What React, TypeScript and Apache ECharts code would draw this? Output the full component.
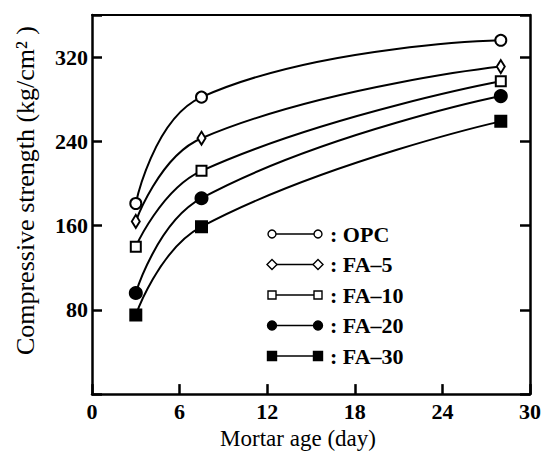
import React, { useEffect, useRef } from "react";
import * as echarts from "echarts";

// Mortar age in days at which strength was measured
const ages = [3, 7.5, 28];

// Compressive strength (kg/cm²) for each mix
const opc = [181, 282, 336];
const fa5 = [164, 243, 311];
const fa10 = [140, 212, 297];
const fa20 = [96, 186, 283];
const fa30 = [75, 159, 259];

const xTicks = [0, 6, 12, 18, 24, 30];
const yTicks = [80, 160, 240, 320];

const seriesNames = ["OPC", "FA–5", "FA–10", "FA–20", "FA–30"];

const FONT = "'Liberation Serif', 'DejaVu Serif', serif";

type MarkerSpec = { symbol: string; size: number | number[]; filled: boolean };

const markers: MarkerSpec[] = [
  { symbol: "circle", size: 11, filled: false },
  { symbol: "diamond", size: [8, 13], filled: false },
  { symbol: "rect", size: 10, filled: false },
  { symbol: "circle", size: 12, filled: true },
  { symbol: "rect", size: 11, filled: true },
];

const values = [opc, fa5, fa10, fa20, fa30];

function buildLegend() {
  const elements: any[] = [];
  const x1 = 272;
  const x2 = 318;
  const top = 234;
  const step = 30.5;
  seriesNames.forEach((name, i) => {
    const y = top + i * step;
    elements.push({
      type: "line",
      shape: { x1, y1: y, x2, y2: y },
      style: { stroke: "#000", lineWidth: 1.6 },
      z: 10,
    });
    const m = markers[i];
    [x1, x2].forEach((cx) => {
      const fill = m.filled ? "#000" : "#fff";
      const style = { fill, stroke: "#000", lineWidth: 1.4 };
      if (m.symbol === "circle") {
        elements.push({ type: "circle", shape: { cx, cy: y, r: m.filled ? 4.5 : 4 }, style, z: 11 });
      } else if (m.symbol === "rect") {
        const s = m.filled ? 9 : 8;
        elements.push({ type: "rect", shape: { x: cx - s / 2, y: y - s / 2, width: s, height: s }, style, z: 11 });
      } else {
        elements.push({
          type: "polygon",
          shape: { points: [[cx, y - 5], [cx + 5, y], [cx, y + 5], [cx - 5, y]] },
          style,
          z: 11,
        });
      }
    });
    elements.push({
      type: "text",
      x: 330,
      y,
      style: {
        text: ": " + name,
        font: `bold 22px ${FONT}`,
        fill: "#000",
        verticalAlign: "middle",
        align: "left",
      },
      z: 11,
    });
  });
  return elements;
}

export default function App() {
  const ref = useRef<HTMLDivElement>(null);

  useEffect(() => {
    if (!ref.current) return;
    const chart = echarts.init(ref.current, undefined, { renderer: "svg" });

    const axisLine = { show: true, onZero: false, lineStyle: { color: "#000", width: 2.5 } };
    const innerTick = { show: true, inside: true, length: 10, lineStyle: { color: "#000", width: 2.5 } };

    chart.setOption({
      animation: false,
      backgroundColor: "#fff",
      grid: { left: 92, right: 16, top: 15, bottom: 52 },
      xAxis: [
        {
          type: "value",
          min: xTicks[0],
          max: xTicks[xTicks.length - 1],
          interval: 6,
          position: "bottom",
          axisLine,
          axisTick: innerTick,
          axisLabel: {
            color: "#000",
            fontFamily: FONT,
            fontSize: 22,
            fontWeight: "bold",
            margin: 6,
          },
          splitLine: { show: false },
          name: "Mortar age (day)",
          nameLocation: "middle",
          nameGap: 25,
          nameTextStyle: { color: "#000", fontFamily: FONT, fontSize: 23, padding: [0, 26, 0, 0] },
        },
        {
          type: "value",
          min: xTicks[0],
          max: xTicks[xTicks.length - 1],
          position: "top",
          axisLine: { show: true, onZero: false, lineStyle: { color: "#000", width: 2 } },
          axisTick: { show: false },
          axisLabel: { show: false },
          splitLine: { show: false },
        },
      ],
      yAxis: [
        {
          type: "value",
          min: 0,
          max: 360,
          interval: 80,
          position: "left",
          axisLine,
          axisTick: innerTick,
          axisLabel: {
            color: "#000",
            fontFamily: FONT,
            fontSize: 22,
            fontWeight: "bold",
            margin: 4,
            formatter: (v: number) => (yTicks.includes(v) ? String(v) : ""),
          },
          splitLine: { show: false },
          name: "Compressive strength (kg/cm² )",
          nameLocation: "middle",
          nameGap: 54,
          nameTextStyle: { color: "#000", fontFamily: FONT, fontSize: 26, padding: [0, 0, 0, 28] },
        },
        {
          type: "value",
          min: 0,
          max: 360,
          interval: 80,
          position: "right",
          axisLine,
          axisTick: innerTick,
          axisLabel: { show: false },
          splitLine: { show: false },
        },
      ],
      series: values.map((vals, i) => {
        const m = markers[i];
        return {
          name: seriesNames[i],
          type: "line",
          xAxisIndex: 0,
          yAxisIndex: 0,
          smooth: 0.45,
          data: ages.map((a, j) => [a, vals[j]]),
          symbol: m.symbol,
          symbolSize: m.size,
          showSymbol: true,
          lineStyle: { color: "#000", width: 2 },
          itemStyle: {
            color: m.filled ? "#000" : "#fff",
            borderColor: "#000",
            borderWidth: 2,
          },
          z: 3,
        };
      }),
      graphic: buildLegend(),
    });

    return () => chart.dispose();
  }, []);

  return (
    <div
      ref={ref}
      style={{ position: "fixed", left: 0, top: 0, width: 546, height: 455, background: "#fff" }}
    />
  );
}
